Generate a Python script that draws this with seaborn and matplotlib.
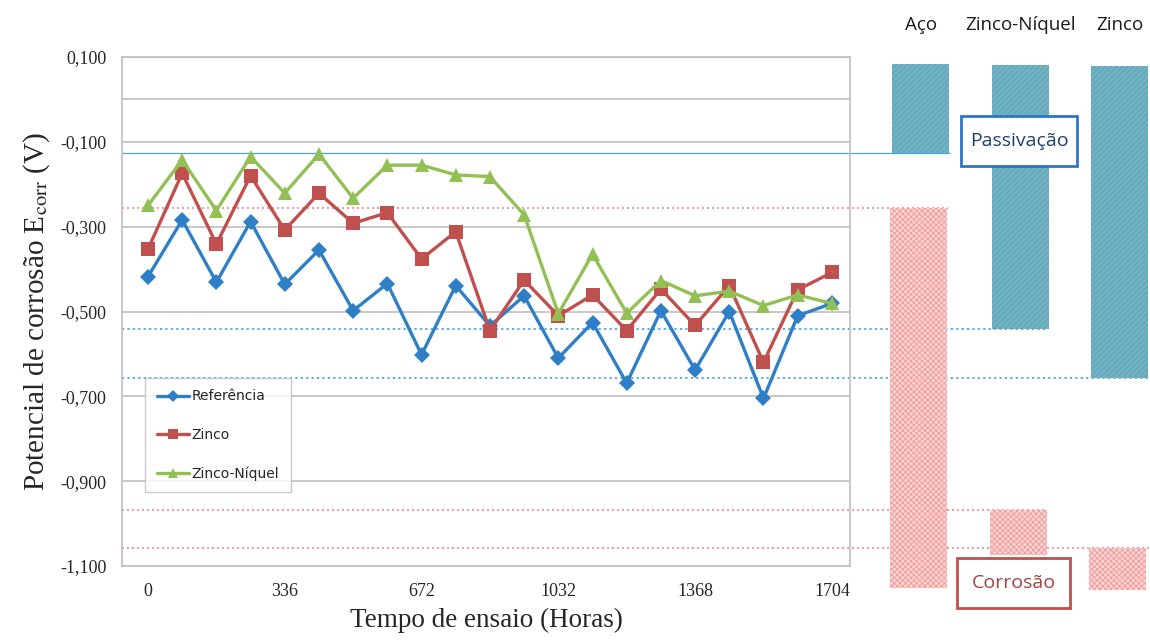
import numpy as np
import pandas as pd
import matplotlib
matplotlib.use("Agg")
import matplotlib.pyplot as plt
from matplotlib.patches import Rectangle
import seaborn as sns

sns.set_style("white")
plt.rcParams["font.family"] = ["Liberation Serif", "DejaVu Serif"]
plt.rcParams["mathtext.fontset"] = "stix"
plt.rcParams["hatch.linewidth"] = 0.6

# ensaio: 21 leituras, eixo de categorias
amostra = list(range(21))
rotulos_x = ["0", "336", "672", "1032", "1368", "1704"]
pos_rotulos = [0, 4, 8, 12, 16, 20]

referencia = [-0.418, -0.284, -0.431, -0.288, -0.436, -0.355, -0.498, -0.434, -0.602, -0.439, -0.534,
              -0.463, -0.610, -0.526, -0.669, -0.498, -0.638, -0.500, -0.705, -0.510, -0.481]
zinco = [-0.353, -0.174, -0.341, -0.180, -0.308, -0.221, -0.292, -0.267, -0.376, -0.312, -0.545,
         -0.426, -0.510, -0.461, -0.545, -0.447, -0.533, -0.439, -0.620, -0.449, -0.408]
zinco_niquel = [-0.250, -0.143, -0.262, -0.135, -0.221, -0.129, -0.233, -0.155, -0.155, -0.178, -0.182,
                -0.272, -0.505, -0.365, -0.504, -0.427, -0.463, -0.452, -0.486, -0.461, -0.481]

series = ["Referência", "Zinco", "Zinco-Níquel"]
cores = {"Referência": "#2f7fc6", "Zinco": "#c0504d", "Zinco-Níquel": "#92c055"}
marcadores = {"Referência": "D", "Zinco": "s", "Zinco-Níquel": "^"}
tam_marc = {"Referência": 8, "Zinco": 9.5, "Zinco-Níquel": 10}

# faixas de potencial (V) por material
materiais = ["Aço", "Zinco-Níquel", "Zinco"]
passiv_topo = [0.083, 0.081, 0.079]
passiv_base = [-0.126, -0.541, -0.657]
corr_topo = [-0.256, -0.968, -1.057]
corr_base = [-1.152, -1.074, -1.157]

df = pd.DataFrame({"Amostra": amostra * 3,
                   "E": referencia + zinco + zinco_niquel,
                   "Serie": [s for s in series for _ in amostra]})

W, H = 1150, 642
fig = plt.figure(figsize=(W / 100, H / 100), dpi=100)

# pixel layout of the plot area
px_l, px_r, px_t, px_b = 122, 850, 57, 566
vpp = 1.2 / (px_b - px_t)
y_top = 0.1 + px_t * vpp
y_bot = -1.1 - (H - px_b) * vpp

ov = fig.add_axes([0, 0, 1, 1], zorder=0)
ov.set_xlim(0, W)
ov.set_ylim(y_bot, y_top)
ov.axis("off")

ax = fig.add_axes([px_l / W, (H - px_b) / H, (px_r - px_l) / W, (px_b - px_t) / H], zorder=1)
ax.set_facecolor("none")

axr = fig.add_axes([871 / W, 0, 298.5 / W, 1], zorder=2)
axr.set_facecolor("none")
axr.set_xlim(-0.5, 2.5)
axr.set_ylim(y_bot, y_top)
axr.axis("off")

# reference lines at the limits of each range
fim_passiv = [950, 1046, 1150]
fim_corr = [948, 1045, 1150]
for i, v in enumerate(passiv_base):
    ov.hlines(v, px_l, fim_passiv[i], color="#4aa3e6",
              lw=0.9 if i == 0 else 1.3, ls="-" if i == 0 else (0, (1.2, 1.8)))
for i, v in enumerate(corr_topo):
    ov.hlines(v, px_l, fim_corr[i], color="#f08a8a", lw=1.2, ls=(0, (1.2, 1.8)))

for s in series:
    sub = df[df["Serie"] == s]
    sns.lineplot(data=sub, x="Amostra", y="E", color=cores[s], marker=marcadores[s],
                 markersize=tam_marc[s], markeredgewidth=0, lw=2.4, label=s, ax=ax)

ax.set_xlim(-0.76, 20.53)
ax.set_ylim(-1.1, 0.1)
yt = np.round(np.arange(0.1, -1.11, -0.2), 3)
ax.set_yticks(yt)
ax.set_yticklabels([f"{v:.3f}".replace(".", ",") for v in yt], fontsize=13)
ax.set_xticks(pos_rotulos)
ax.set_xticklabels(rotulos_x, fontsize=13)
ax.tick_params(axis="y", length=5, width=1, color="#a6a6a6", direction="out", pad=6)
ax.tick_params(axis="x", length=0, pad=12)
ax.grid(axis="y", color="#bfbfbf", lw=1.2)
ax.axhline(0, color="#bfbfbf", lw=1.2)
for sp in ax.spines.values():
    sp.set_color("#bfbfbf")
    sp.set_linewidth(1.2)
ax.set_xlabel("Tempo de ensaio (Horas)", fontsize=19.5, labelpad=6)
ax.set_ylabel(r"Potencial de corrosão E$_{\mathrm{corr}}$ (V)", fontsize=21, labelpad=6)

leg = ax.legend(loc="upper left", bbox_to_anchor=(0.032, 0.37), borderaxespad=0, frameon=True,
                fancybox=False, edgecolor="#bfbfbf", labelspacing=1.75, handlelength=2.3,
                handletextpad=0.15, borderpad=0.85, markerscale=0.75,
                prop={"family": ["Liberation Sans Narrow", "DejaVu Sans"], "size": 10})
leg.get_frame().set_linewidth(1.0)

xr = np.arange(len(materiais))
axr.bar(xr, np.array(passiv_topo) - np.array(passiv_base), bottom=passiv_base, width=0.57,
        color="#70b2c3", edgecolor="#5ba2b5", hatch="//////", lw=0)
axr.bar(xr - 0.02, np.array(corr_topo) - np.array(corr_base), bottom=corr_base, width=0.57,
        color="#fcd6d6", edgecolor="#f39595", hatch="xxxxxx", lw=0)
for i, m in enumerate(materiais):
    axr.text(i, 1 - 25 / H, m, transform=axr.get_xaxis_transform(), ha="center", va="center",
             fontsize=13.5, family=["Open Sans", "DejaVu Sans"], color="#1a1a1a")

# caixas Passivação / Corrosão
for (x0, y0, w, h, txt, ec, tc) in [(961, 116, 116, 50, "Passivação", "#2e75c6", "#1f3f6e"),
                                     (957, 558, 113, 50, "Corrosão", "#c0504d", "#a04040")]:
    fig.add_artist(Rectangle((x0 / W, 1 - (y0 + h) / H), w / W, h / H, transform=fig.transFigure,
                             facecolor="white", edgecolor=ec, lw=2, zorder=5))
    fig.text((x0 + w / 2) / W, 1 - (y0 + h / 2) / H, txt, ha="center", va="center", fontsize=14,
             family=["Open Sans", "DejaVu Sans"], color=tc, zorder=6)

fig.savefig("out.png", dpi=100)
